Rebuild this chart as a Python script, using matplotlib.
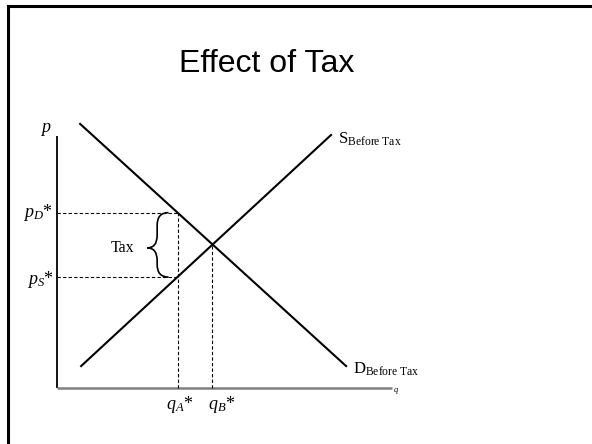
import numpy as np
import matplotlib
matplotlib.use("Agg")
import matplotlib.pyplot as plt
from matplotlib.path import Path
from matplotlib.patches import PathPatch
from matplotlib.lines import Line2D

plt.rcParams['mathtext.fontset'] = 'custom'
plt.rcParams['mathtext.rm'] = 'Liberation Serif'
plt.rcParams['mathtext.it'] = 'Liberation Serif:italic'

# model values (q on x axis, p on y axis)
title = "Effect of Tax"
q_max = 10.0
p_max = 10.0
demand_q = [0.69, 8.63]
demand_p = [10.48, 0.87]
supply_q = [0.72, 8.18]
supply_p = [0.87, 10.04]
q_eq, p_eq = 4.63, 5.69
q_a = 3.61
p_d = 6.96
p_s = 4.40

fig = plt.figure(figsize=(5.92, 4.44), dpi=100)
ax = fig.add_axes([0, 0, 1, 1])
ax.set_xlim(-57 / 33.5, (592 - 57) / 33.5)
ax.set_ylim(-(444 - 388) / 25.2, 388 / 25.2)
ax.axis('off')

# slide border
fig.add_artist(Line2D([8 / 592, 8 / 592], [0, 1 - 6 / 444], transform=fig.transFigure,
                      color='black', lw=2.2))
fig.add_artist(Line2D([8 / 592, 1], [1 - 6 / 444, 1 - 6 / 444], transform=fig.transFigure,
                      color='black', lw=2.2))

fig.text(267 / 592, 1 - 64 / 444, title, fontsize=23, family='Liberation Sans',
         ha='center', va='center')

# axes
ax.plot([0, 0], [0, p_max], color='black', lw=1.3, solid_capstyle='butt')
ax.plot([0, q_max], [0, 0], color='#808080', lw=1.8, solid_capstyle='butt')

# curves
ax.plot(demand_q, demand_p, color='black', lw=1.5)
ax.plot(supply_q, supply_p, color='black', lw=1.5)

# dashed guides
dash = dict(color='black', lw=0.8, linestyle=(0, (3, 2)))
ax.plot([0, q_a], [p_d, p_d], **dash)
ax.plot([0, q_a], [p_s, p_s], **dash)
ax.plot([q_a, q_a], [0, p_d], **dash)
ax.plot([q_eq, q_eq], [0, p_eq], **dash)

# tax brace
x_end, x_sp, x_tip = 3.33, 2.99, 2.69
r = 0.5
y_mid = (p_d + p_s) / 2 - 0.12
verts = [(x_end, p_d), (x_sp, p_d), (x_sp, p_d - r),
         (x_sp, y_mid + r),
         (x_sp, y_mid), (x_tip, y_mid),
         (x_sp, y_mid), (x_sp, y_mid - r),
         (x_sp, p_s + r),
         (x_sp, p_s), (x_end, p_s)]
codes = [Path.MOVETO, Path.CURVE3, Path.CURVE3,
         Path.LINETO,
         Path.CURVE3, Path.CURVE3,
         Path.CURVE3, Path.CURVE3,
         Path.LINETO,
         Path.CURVE3, Path.CURVE3]
ax.add_patch(PathPatch(Path(verts, codes), fill=False, lw=1.2, edgecolor='black'))

serif = 'Liberation Serif'
ax.text(1.97, y_mid, "Tax", fontsize=11.5, family=serif, ha='center', va='center')
ax.text(-0.33, 10.24, "$p$", fontsize=13, family=serif, ha='center', va='center')
ax.text(-0.12, p_d, "$p_D$*", fontsize=13, family=serif, ha='right', va='center')
ax.text(-0.08, p_s - 0.1, "$p_S$*", fontsize=13, family=serif, ha='right', va='center')
ax.text(q_a + 0.06, -0.67, "$q_A$*", fontsize=13, family=serif, ha='center', va='center')
ax.text(q_eq + 0.27, -0.67, "$q_B$*", fontsize=13, family=serif, ha='center', va='center')
ax.text(8.39, 9.88, r"S$_{\mathrm{Before\ Tax}}$", fontsize=12, family=serif,
        ha='left', va='center')
ax.text(8.84, 0.75, r"D$_{\mathrm{Before\ Tax}}$", fontsize=12, family=serif,
        ha='left', va='center')
ax.text(q_max + 0.03, -0.12, "$q$", fontsize=6, family=serif, ha='left', va='center')

fig.savefig("out.png", dpi=100)
